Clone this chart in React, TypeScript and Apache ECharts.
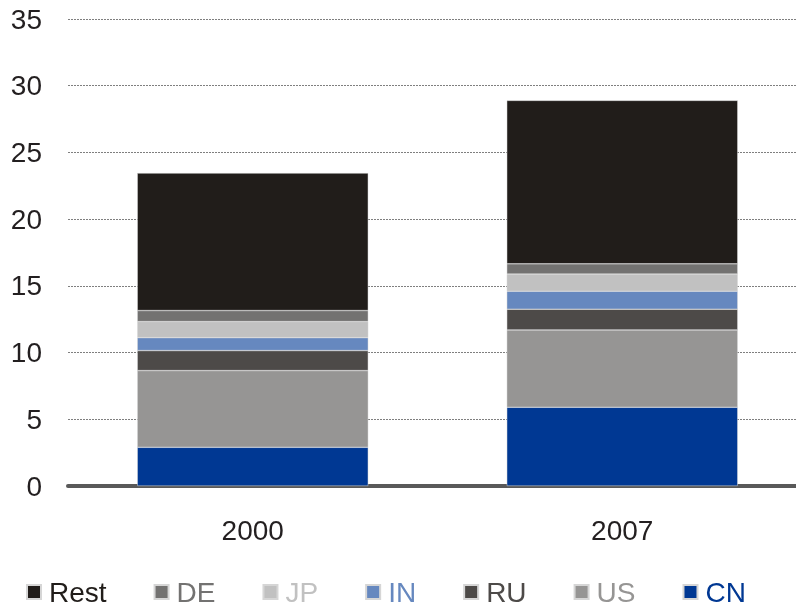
import React, { useEffect, useRef } from "react";
import * as echarts from "echarts";

const categories = ["2000", "2007"];
const seriesNames = ["CN", "US", "RU", "IN", "JP", "DE", "Rest"];
const cnValues = [2.9, 5.9];
const usValues = [5.75, 5.8];
const ruValues = [1.5, 1.55];
const inValues = [0.97, 1.35];
const jpValues = [1.2, 1.28];
const deValues = [0.83, 0.77];
const restValues = [10.3, 12.25];
const legendOrder = ["Rest", "DE", "JP", "IN", "RU", "US", "CN"];
const yTicks = [0, 5, 10, 15, 20, 25, 30, 35];

const colors: Record<string, string> = {
  CN: "#003893",
  US: "#969594",
  RU: "#4d4a48",
  IN: "#6688bf",
  JP: "#c1c1c1",
  DE: "#737271",
  Rest: "#211d1a",
};

const valuesByName: Record<string, number[]> = {
  CN: cnValues,
  US: usValues,
  RU: ruValues,
  IN: inValues,
  JP: jpValues,
  DE: deValues,
  Rest: restValues,
};

export default function App() {
  const ref = useRef<HTMLDivElement>(null);
  useEffect(() => {
    if (!ref.current) return;
    const chart = echarts.init(ref.current, null, { renderer: "svg" });
    const font = "'Liberation Sans', Arial, sans-serif";
    chart.setOption({
      animation: false,
      textStyle: { fontFamily: font },
      grid: { left: 68, top: 19, width: 739, bottom: 121, containLabel: false },
      legend: {
        left: 21,
        top: 573,
        itemWidth: 14,
        itemHeight: 14,
        itemGap: 47,
        icon: "rect",
        textStyle: { fontSize: 28, fontFamily: font, padding: [0, 0, 0, 3] },
        data: legendOrder.map((n) => ({
          name: n,
          textStyle: { color: colors[n] },
        })),
      },
      xAxis: {
        type: "category",
        data: categories,
        axisLine: { show: true, lineStyle: { color: "#595959", width: 4 } },
        axisTick: { show: false },
        axisLabel: { fontSize: 28, color: "#231f20", margin: 30, fontFamily: font },
      },
      yAxis: {
        type: "value",
        min: yTicks[0],
        max: yTicks[yTicks.length - 1],
        interval: 5,
        axisLine: { show: false },
        axisTick: { show: false },
        axisLabel: { fontSize: 28, color: "#231f20", margin: 26, fontFamily: font },
        splitLine: { show: true, lineStyle: { color: "#7f7f7f", width: 1, type: [2, 1] } },
      },
      series: seriesNames.map((n) => ({
        name: n,
        type: "bar",
        stack: "total",
        barWidth: 231,
        data: valuesByName[n],
        itemStyle: { color: colors[n], borderColor: "#d6d6d6", borderWidth: 0.5 },
      })),
    });
    return () => chart.dispose();
  }, []);
  return (
    <div
      style={{ position: "fixed", left: 0, top: 0, width: 796, height: 607, overflow: "hidden" }}
    >
      <div ref={ref} style={{ width: 820, height: 607 }} />
    </div>
  );
}
